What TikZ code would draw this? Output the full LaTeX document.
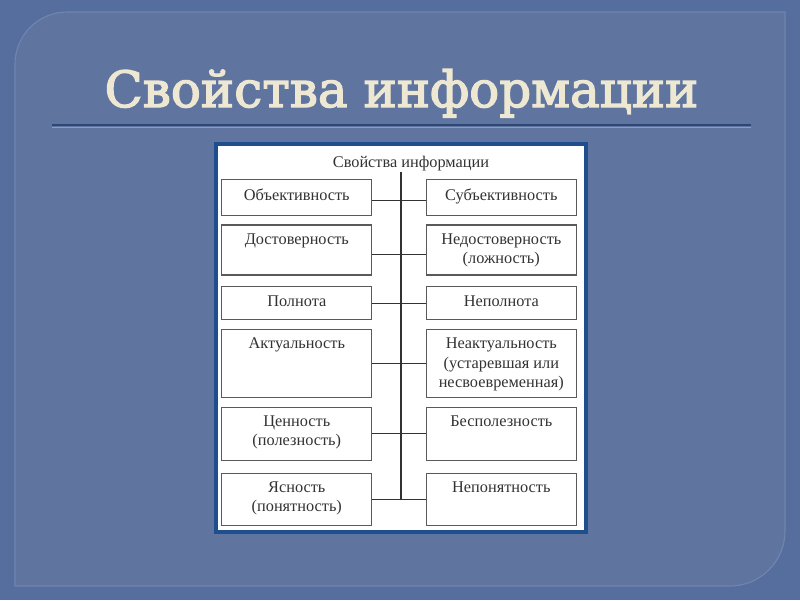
\documentclass[tikz,border=0pt]{standalone}
\usepackage{fontspec}
\setmainfont{Liberation Serif}
\newfontfamily\titlefont[FakeBold=2.6]{DejaVu Serif}
\definecolor{outerbg}{RGB}{86,110,157}
\definecolor{innerbg}{RGB}{95,117,160}
\definecolor{panelline}{RGB}{112,132,176}
\definecolor{titlecol}{RGB}{238,232,210}
\definecolor{titleline}{RGB}{45,72,118}
\definecolor{framecol}{RGB}{30,78,140}
\definecolor{boxgray}{RGB}{90,90,90}
\definecolor{txtgray}{RGB}{50,50,50}
\tikzset{
  box/.style={draw=boxgray, line width=0.75pt, fill=white, inner sep=0pt, minimum width=3.75cm},
  lbl/.style={font=\fontsize{11.6}{13.6}\selectfont, text=txtgray, align=center, inner sep=0pt},
  toplbl/.style={lbl, anchor=north, yshift=-6.5pt},
  conn/.style={draw=txtgray, line width=0.75pt},
}
\begin{document}
\begin{tikzpicture}[x=0.025cm,y=-0.025cm]
\useasboundingbox (0,0) rectangle (800,600);
\fill[outerbg] (0,0) rectangle (800,600);
\filldraw[fill=innerbg, draw=panelline, line width=0.8pt]
  (15,586) -- (15,64) arc[start angle=180,end angle=270,radius=52]
  -- (785,12) -- (785,531) arc[start angle=0,end angle=90,radius=55] -- cycle;
\node[anchor=base, text=titlecol, font=\titlefont\fontsize{35.5}{40}\selectfont] (title) at (401.5,107) {Свойства информации};
\draw[titleline, line width=1.5pt] (52,125) -- (751,125);
\draw[white!60!innerbg, line width=0.5pt, opacity=0.5] (52,127) -- (751,127);
\node[draw=framecol, line width=2.8pt, fill=white, minimum width=9.25cm, minimum height=9.7cm, inner sep=0pt] (frame) at (401,338) {};
\node[lbl] (hdr) at (411,164) {Свойства информации};
% left column
\node[box, minimum height=0.9cm,   label={[toplbl]north:Объективность}] (l1) at (296.8,197.5) {};
\node[box, minimum height=1.25cm,  label={[toplbl]north:Достоверность}] (l2) at (296.8,250) {};
\node[box, minimum height=0.825cm, label={[toplbl]north:Полнота}] (l3) at (296.8,303.3) {};
\node[box, minimum height=1.7cm,   label={[toplbl]north:Актуальность}] (l4) at (296.8,363.3) {};
\node[box, minimum height=1.325cm, label={[toplbl]north:{Ценность\\(полезность)}}] (l5) at (296.8,433.6) {};
\node[box, minimum height=1.3cm,   label={[toplbl]north:{Ясность\\(понятность)}}] (l6) at (296.8,499.2) {};
% right column
\node[box, minimum height=0.9cm,   label={[toplbl]north:Субъективность}] (r1) at (501.3,197.5) {};
\node[box, minimum height=1.25cm,  label={[toplbl]north:{Недостоверность\\(ложность)}}] (r2) at (501.3,250) {};
\node[box, minimum height=0.825cm, label={[toplbl]north:Неполнота}] (r3) at (501.3,303.3) {};
\node[box, minimum height=1.7cm,   label={[toplbl]north:{Неактуальность\\(устаревшая или\\несвоевременная)}}] (r4) at (501.3,363.3) {};
\node[box, minimum height=1.325cm, label={[toplbl]north:Бесполезность}] (r5) at (501.3,433.6) {};
\node[box, minimum height=1.3cm,   label={[toplbl]north:Непонятность}] (r6) at (501.3,499.2) {};
% connectors
\coordinate (vtop) at (401,172);
\draw[conn] (vtop) -- (vtop |- l6.east);
\draw[conn] ([yshift=-2.2pt]l1.east) -- ([yshift=-2.2pt]r1.west);
\draw[conn] ([yshift=-3.5pt]l2.east) -- ([yshift=-3.5pt]r2.west);
\draw[conn] (l3.east) -- (r3.west);
\draw[conn] (l4.east) -- (r4.west);
\draw[conn] (l5.east) -- (r5.west);
\draw[conn] (l6.east) -- (r6.west);
\end{tikzpicture}
\end{document}
